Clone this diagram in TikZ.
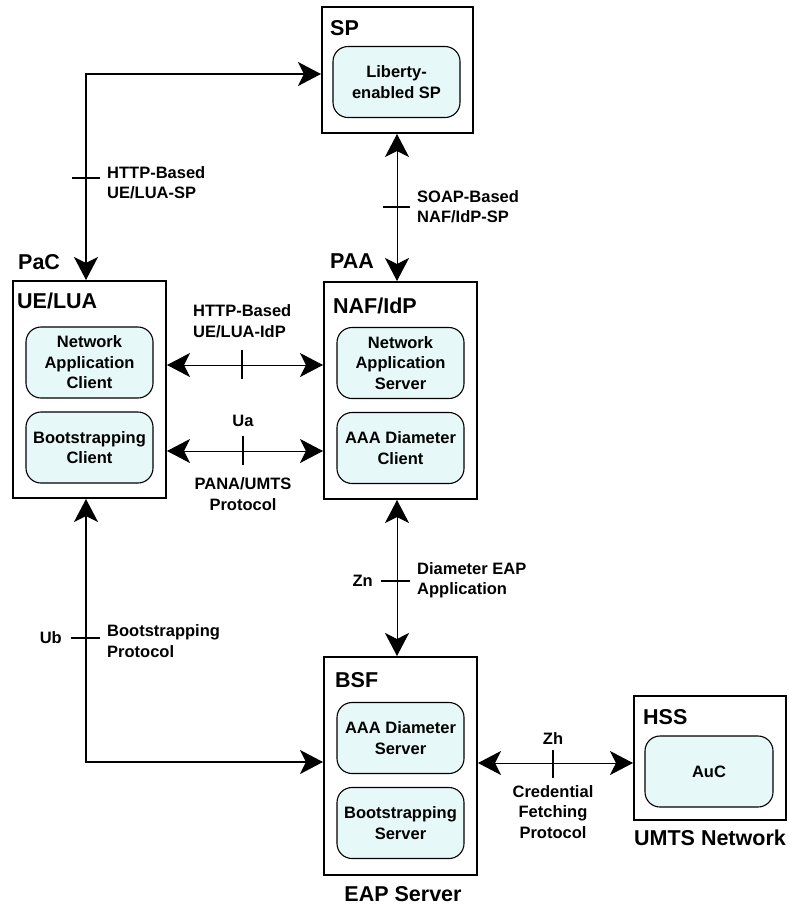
\documentclass[tikz,border=0pt]{standalone}
\usepackage{fontspec}
\setmainfont{Liberation Sans}
\usetikzlibrary{arrows.meta}
\definecolor{boxfill}{RGB}{230,248,248}
\begin{document}
\begin{tikzpicture}[x=1pt,y=-1pt,
  every node/.style={font=\bfseries\fontsize{16.5}{20.5}\selectfont, inner sep=0pt},
  outerbox/.style={draw, line width=2pt, minimum width=#1, inner sep=0pt},
  unit/.style={draw, line width=1.1pt, rounded corners=15pt, fill=boxfill,
    minimum width=127pt, minimum height=71pt, align=center},
  title/.style={font=\bfseries\fontsize{21.5}{24}\selectfont, anchor=base west},
  lbl/.style={align=left, anchor=west},
  head/.tip={Stealth[length=23pt,width=24pt,inset=6pt]},
  link/.style={line width=1pt, head-head},
  boldlink/.style={line width=2pt, head-head},
  tick/.style={line width=1.5pt}]
\useasboundingbox (0,0) rectangle (789,906);

% ---------- boxes ----------
\node[outerbox=151pt, minimum height=126pt] (sp) at (397.5,70) {};
\node[unit] (lib) at (396.5,82) {Liberty-\\enabled SP};
\node[title] at (330,35) {SP};

\node[outerbox=153pt, minimum height=217pt] (ue) at (89.5,389.5) {};
\node[unit] (nac) at (89.5,362.5) {Network\\Application\\Client};
\node[unit] (bc) at (89.5,447.5) {Bootstrapping\\Client};
\node[title] at (17,308) {UE/LUA};
\node[title] at (18,269) {PaC};

\node[outerbox=153pt, minimum height=217pt] (naf) at (400.5,390.5) {};
\node[unit] (nas) at (400.5,363) {Network\\Application\\Server};
\node[unit] (aac) at (400.5,448) {AAA Diameter\\Client};
\node[title] at (333,313) {NAF/IdP};
\node[title] at (330,268) {PAA};

\node[outerbox=153pt, minimum height=218pt] (bsf) at (400.5,766) {};
\node[unit] (ads) at (400.5,738) {AAA Diameter\\Server};
\node[unit] (bss) at (400.5,823) {Bootstrapping\\Server};
\node[title] at (335,687) {BSF};
\node[title, anchor=base] at (403,901) {EAP Server};

\node[outerbox=152pt, minimum height=124pt] (hss) at (710,758) {};
\node[unit, minimum width=128pt] (auc) at (709,771.5) {AuC};
\node[title] at (643,724) {HSS};
\node[title, anchor=base] at (710,845) {UMTS Network};

% ---------- routing points ----------
\coordinate (corner) at (86,74);
\coordinate (ubcorner) at (86,762);
\coordinate (soapx) at (397,0);
\coordinate (idpy) at (0,365);
\coordinate (uay) at (0,451);
\coordinate (zhy) at (0,763);

% ---------- HTTP-based UE/LUA-SP ----------
\draw[boldlink] (ue.north -| corner) -- (corner) -- (corner -| sp.west);
\draw[tick] (72,178) -- (100,178);
\node[lbl] at (107,182.5) {HTTP-Based\\UE/LUA-SP};

% ---------- SOAP-based NAF/IdP-SP ----------
\draw[link] (sp.south -| soapx) -- (naf.north -| soapx);
\draw[tick, line width=1.2pt] (383,207) -- (410,207);
\node[lbl] at (417,206.5) {SOAP-Based\\NAF/IdP-SP};

% ---------- HTTP-based UE/LUA-IdP ----------
\draw[link] (ue.east |- idpy) -- (naf.west |- idpy);
\draw[tick, line width=1.2pt] (242,350) -- (242,379);
\node[lbl] at (193,321) {HTTP-Based\\UE/LUA-IdP};

% ---------- Ua ----------
\draw[link] (ue.east |- uay) -- (naf.west |- uay);
\draw[tick, line width=1.2pt] (243,436) -- (243,465);
\node at (243,421) {Ua};
\node[align=center] at (243,494) {PANA/UMTS\\Protocol};

% ---------- Zn ----------
\draw[link] (naf.south -| soapx) -- (bsf.north -| soapx);
\draw[tick, line width=1.2pt] (381,581) -- (410,581);
\node[anchor=east] at (373,581) {Zn};
\node[lbl] at (417,580) {Diameter EAP\\Application};

% ---------- Ub ----------
\draw[boldlink] (ue.south -| ubcorner) -- (ubcorner) -- (ubcorner -| bsf.west);
\draw[tick] (71,638) -- (100,638);
\node[anchor=east] at (62,638) {Ub};
\node[lbl] at (107,641) {Bootstrapping\\Protocol};

% ---------- Zh ----------
\draw[link] (bsf.east |- zhy) -- (hss.west |- zhy);
\draw[tick, line width=1.2pt] (553,750) -- (553,778);
\node at (553,739) {Zh};
\node[align=center] at (553,812) {Credential\\Fetching\\Protocol};
\end{tikzpicture}
\end{document}
